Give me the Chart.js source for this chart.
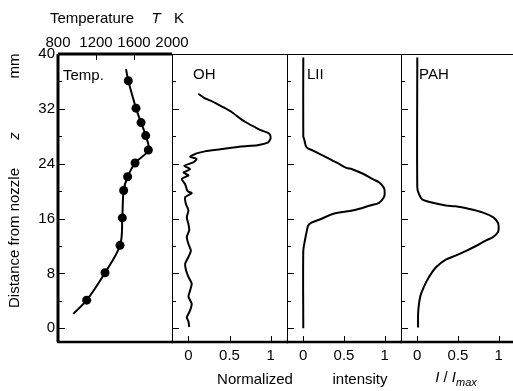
<!DOCTYPE html>
<html>
<head>
<meta charset="utf-8">
<script src="https://cdn.jsdelivr.net/npm/chart.js@4.4.0/dist/chart.umd.min.js"></script>
<style>
  html, body { margin: 0; padding: 0; background: #fff; overflow: hidden; }
  #wrap { position: relative; width: 513px; height: 391px; overflow: hidden;
          font-family: "Liberation Sans", Arial, sans-serif; font-size: 15px; color: #000; }
  #wrap canvas { position: absolute; left: 0; top: 0; }
  .lbl { position: absolute; white-space: nowrap; line-height: 1; }
  .c { transform: translate(-50%, -50%); }
  .v { transform: translate(-50%, -50%) rotate(-90deg); }
  .l { transform: translate(0, -50%); }
</style>
</head>
<body>
<div id="wrap">
  <canvas id="cTemp" width="520" height="391"></canvas>
  <canvas id="cOH" width="520" height="391"></canvas>
  <canvas id="cLII" width="520" height="391"></canvas>
  <canvas id="cPAH" width="520" height="391"></canvas>

  <div class="lbl c" style="left:92px;top:17px">Temperature</div>
  <div class="lbl c" style="left:156px;top:17px"><i>T</i></div>
  <div class="lbl c" style="left:179px;top:17px">K</div>

  <div class="lbl v" style="left:13px;top:238px">Distance from nozzle</div>
  <div class="lbl v" style="left:13px;top:136px"><i>z</i></div>
  <div class="lbl v" style="left:13px;top:66px">mm</div>

  <div class="lbl l" style="left:63px;top:74px">Temp.</div>
  <div class="lbl l" style="left:193px;top:73px">OH</div>
  <div class="lbl l" style="left:307px;top:73px">LII</div>
  <div class="lbl l" style="left:419px;top:73px">PAH</div>

  <div class="lbl c" style="left:255px;top:378px">Normalized</div>
  <div class="lbl c" style="left:360px;top:378px">intensity</div>
  <div class="lbl c" style="left:456px;top:378px"><i>I</i> / <i>I</i><sub style="font-size:11px"><i>max</i></sub></div>
</div>

<script>
// distance from nozzle (mm) and measured temperature (K)
const tempZ = [4.1, 8.1, 12.1, 16.1, 20.1, 22.1, 24.1, 26.0, 28.1, 30.0, 32.1, 36.1];
const tempK = [1102, 1295, 1453, 1477, 1491, 1533, 1611, 1751, 1723, 1674, 1621, 1540];
// smoothed temperature profile
const fitZ = [2.1, 4.1, 8.1, 12.1, 16.1, 20.1, 22.1, 24.1, 26.0, 28.1, 30.0, 32.1, 36.1, 37.8];
const fitK = [961, 1102, 1295, 1453, 1477, 1491, 1533, 1611, 1751, 1723, 1674, 1621, 1540, 1516];

// OH fluorescence profile
const ohZ = [0.2, 1.0, 1.6, 2.6, 3.6, 4.6, 5.5, 6.5, 7.5, 8.5, 9.4, 10.4, 11.3, 12.3, 13.3, 14.3,
             15.2, 16.2, 17.2, 18.1, 19.1, 19.7, 20.0, 21.0, 21.8, 22.3, 22.7, 23.2, 23.7, 24.2,
             24.7, 25.0, 25.5, 25.8, 26.1, 26.5, 26.7, 27.1, 27.7, 28.3, 28.6, 28.9, 29.4, 29.9,
             30.5, 31.5, 32.2, 32.7, 33.2, 33.6, 34.2];
const ohI = [0.01, 0.0, -0.02, 0.02, 0.04, 0.0, 0.02, 0.04, 0.0, -0.03, -0.04, 0.0, 0.03, 0.0, -0.02, 0.01,
             0.0, -0.02, 0.0, -0.03, -0.04, 0.04, -0.01, -0.04, -0.08, 0.0, -0.06, 0.02, -0.05, 0.06,
             0.1, 0.02, 0.1, 0.2, 0.39, 0.64, 0.84, 0.97, 1.0, 0.99, 0.95, 0.88, 0.8, 0.72,
             0.64, 0.53, 0.43, 0.35, 0.27, 0.19, 0.12];

// laser-induced incandescence profile
const liiZ = [0, 11.3, 12.8, 14.0, 15.0, 15.4, 15.9, 16.7, 17.2, 17.9, 18.3, 19.1, 19.8, 20.5,
              21.3, 21.7, 22.5, 23.2, 23.4, 23.9, 24.9, 25.9, 26.4, 27.6, 28.0, 39.5];
const liiI = [0, 0, 0.02, 0.04, 0.06, 0.1, 0.21, 0.37, 0.62, 0.82, 0.93, 0.99, 1.0, 0.99,
              0.93, 0.86, 0.74, 0.6, 0.53, 0.45, 0.29, 0.12, 0.04, 0.01, 0, 0];

// PAH fluorescence profile
const pahZ = [0.1, 2.1, 3.5, 4.8, 6.0, 7.4, 8.9, 10.0, 10.6, 11.3, 12.0, 12.8, 13.3, 14.0, 14.7,
              15.4, 16.2, 16.9, 17.4, 17.8, 17.9, 18.3, 18.8, 19.6, 20.5, 39.5];
const pahI = [0.01, 0.01, 0.02, 0.04, 0.08, 0.14, 0.23, 0.35, 0.47, 0.6, 0.72, 0.84, 0.93, 0.99, 1.0,
              0.99, 0.93, 0.8, 0.64, 0.47, 0.35, 0.19, 0.06, 0.02, 0.0, 0.0];

const zTicks = [0, 4, 8, 12, 16, 20, 24, 28, 32, 36, 40];
const zLabels = [0, 8, 16, 24, 32, 40];
const tempTicks = [800, 1200, 1600, 2000];
const valTicks = [0, 0.5, 1];

const pts = (xs, ys) => xs.map((x, i) => ({ x: x, y: ys[i] }));

Chart.defaults.font.family = '"Liberation Sans", Arial, sans-serif';
Chart.defaults.font.size = 15;
Chart.defaults.color = '#000';
Chart.defaults.animation = false;
Chart.defaults.events = [];
Chart.defaults.plugins.legend.display = false;
Chart.defaults.plugins.tooltip.enabled = false;

// panel frame plus inward tick marks
const frame = {
  id: 'frame',
  afterDraw(chart, args, o) {
    const { ctx, chartArea: a, scales } = chart;
    const L = Math.round(a.left), R = Math.round(a.right);
    const T = Math.round(a.top), B = Math.round(a.bottom);
    const seg = (x1, y1, x2, y2, w) => {
      ctx.lineWidth = w;
      ctx.beginPath(); ctx.moveTo(x1, y1); ctx.lineTo(x2, y2); ctx.stroke();
    };
    ctx.save();
    ctx.strokeStyle = '#000';
    const th = o.topW > 1 ? 0 : 0.5, lh = o.leftW > 1 ? 0 : 0.5;
    seg(L, T + th, R, T + th, o.topW);
    seg(R + 0.5, T, R + 0.5, B, 1);
    seg(L + lh, T, L + lh, B, o.leftW);
    seg(L - 1, B, R + 1, B, 2.5);
    zTicks.forEach(v => {
      const y = Math.round(scales.y.getPixelForValue(v)) + 0.5;
      seg(L, y, L + (v % 8 ? 4 : 7), y, 1);
    });
    o.xTicks.forEach(v => {
      const x = Math.round(scales.x.getPixelForValue(v)) + 0.5;
      if (o.xTop) seg(x, T, x, T + 6, 1);
      else seg(x, B, x, B - 6, 1);
    });
    ctx.restore();
  }
};

const fixTicks = list => s => { s.ticks = list.map(v => ({ value: v })); };
const noGrid = { display: false, drawTicks: false, tickLength: 0 };

const tempScaleY = {
  type: 'linear', min: -2, max: 40,
  grid: noGrid, border: { display: false },
  afterBuildTicks: fixTicks(zLabels),
  ticks: { padding: 3, autoSkip: false },
  afterFit: s => { s.width = 58; s.paddingTop = 0; s.paddingBottom = 0; }
};

const hiddenScaleY = { type: 'linear', min: -2, max: 40, display: false };

const profileScaleX = {
  type: 'linear', position: 'bottom', min: -0.2, max: 1.2,
  grid: noGrid, border: { display: false },
  afterBuildTicks: fixTicks(valTicks),
  ticks: { padding: 5, maxRotation: 0, autoSkip: false, callback: v => String(v) },
  afterFit: s => { s.height = 49; s.paddingLeft = 0; s.paddingRight = 0; }
};

// temperature panel
new Chart(document.getElementById('cTemp'), {
  type: 'line',
  data: {
    datasets: [
      { data: pts(fitK, fitZ), borderColor: '#000', borderWidth: 2, pointRadius: 0, tension: 0.35, fill: false },
      { data: pts(tempK, tempZ), showLine: false, pointRadius: 4.5, pointBackgroundColor: '#000',
        pointBorderColor: '#000', pointBorderWidth: 0 }
    ]
  },
  options: {
    responsive: false,
    layout: { padding: { left: 0, right: 520 - 172, top: 0, bottom: 391 - 342 } },
    scales: {
      x: {
        type: 'linear', position: 'top', min: 800, max: 2000,
        grid: noGrid, border: { display: false },
        afterBuildTicks: fixTicks(tempTicks),
        ticks: { padding: 2, maxRotation: 0, autoSkip: false, callback: v => String(v) },
        afterFit: s => { s.height = 54; s.paddingLeft = 0; s.paddingRight = 0; }
      },
      y: tempScaleY
    },
    plugins: { frame: { topW: 3, leftW: 3, xTicks: [1200, 1600], xTop: true } }
  },
  plugins: [frame]
});

// normalized intensity panels
function profile(id, left, right, zs, vals, tension) {
  return new Chart(document.getElementById(id), {
    type: 'line',
    data: {
      datasets: [{ data: pts(vals, zs), borderColor: '#000', borderWidth: 2, pointRadius: 0,
                   tension: tension, fill: false }]
    },
    options: {
      responsive: false,
      layout: { padding: { left: left, right: 520 - right, top: 54, bottom: 0 } },
      scales: { x: profileScaleX, y: hiddenScaleY },
      plugins: { frame: { topW: 1, leftW: 1, xTicks: valTicks, xTop: false } }
    },
    plugins: [frame]
  });
}

profile('cOH', 172, 287, ohZ, ohI, 0.2);
profile('cLII', 287, 401, liiZ, liiI, 0.3);
profile('cPAH', 401, 515, pahZ, pahI, 0.3);
</script>
</body>
</html>
